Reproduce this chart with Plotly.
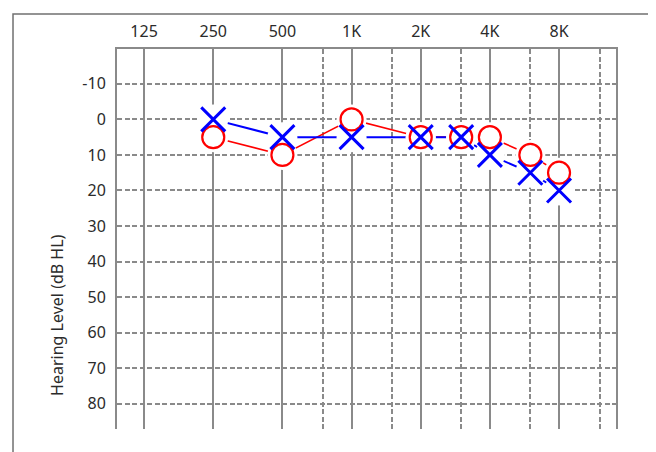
import plotly.graph_objects as go

# ---- data ----
freqs = [250, 500, 1000, 2000, 3000, 4000, 6000, 8000]
right_db = [5, 10, 0, 5, 5, 5, 10, 15]     # red circles
left_db = [0, 5, 5, 5, 5, 10, 15, 20]      # blue crosses

octave_ticks = [125, 250, 500, 1000, 2000, 4000, 8000]
octave_text = ["125", "250", "500", "1K", "2K", "4K", "8K"]
half_octaves = [750, 1500, 3000, 6000, 12000]
db_ticks = [-10, 0, 10, 20, 30, 40, 50, 60, 70, 80]
db_text = ["-10", "0", "10", "20", "30", "40", "50", "60", "70", "80"]

RED = "#ff0000"
BLUE = "#0000ff"
GRID = "#8a8a8a"
FONT = "Noto Sans"
TXT = "#2b2b2b"
DASH = "5px,2.5px"

fig = go.Figure()

# connecting lines
fig.add_trace(go.Scatter(x=freqs, y=right_db, mode="lines",
                         line=dict(color=RED, width=1.6), hoverinfo="skip"))
fig.add_trace(go.Scatter(x=freqs, y=left_db, mode="lines",
                         line=dict(color=BLUE, width=2), hoverinfo="skip"))
# white halos around markers
for ys in (right_db, left_db):
    fig.add_trace(go.Scatter(x=freqs, y=ys, mode="markers",
                             marker=dict(symbol="circle", size=30, color="white",
                                         line=dict(width=0)),
                             hoverinfo="skip"))
# symbols
fig.add_trace(go.Scatter(x=freqs, y=right_db, mode="markers",
                         marker=dict(symbol="circle-open", size=22,
                                     line=dict(color=RED, width=2.2), color=RED)))
fig.add_trace(go.Scatter(x=freqs, y=left_db, mode="markers",
                         marker=dict(symbol="x-thin-open", size=24,
                                     line=dict(color=BLUE, width=3), color=BLUE)))

fig.update_layout(
    width=648, height=444,
    margin=dict(l=109, r=40, t=29, b=23),
    paper_bgcolor="white", plot_bgcolor="white",
    showlegend=False,
    font=dict(family=FONT, size=16, color=TXT),
    xaxis=dict(
        type="log", range=[1.979, 4.151], side="top",
        tickmode="array", tickvals=octave_ticks, ticktext=octave_text,
        ticks="", ticklabelstandoff=4,
        showgrid=True, gridcolor=GRID, gridwidth=2,
        minor=dict(tickmode="array", tickvals=half_octaves, showgrid=True,
                   gridcolor=GRID, gridwidth=2, griddash=DASH, ticks=""),
        showline=True, linecolor=GRID, linewidth=2, mirror=False,
        zeroline=False, fixedrange=True,
    ),
    yaxis=dict(
        range=[87.1, -19.8],
        tickmode="array", tickvals=db_ticks, ticktext=db_text,
        ticks="", ticklabelstandoff=6,
        showgrid=True, gridcolor=GRID, gridwidth=2, griddash=DASH,
        showline=True, linecolor=GRID, linewidth=2, mirror=True,
        zeroline=False, fixedrange=True,
    ),
    annotations=[dict(
        text="Hearing Level (dB HL)", textangle=-90,
        xref="paper", yref="paper", x=-0.12, y=0.298,
        xanchor="center", yanchor="middle", showarrow=False,
        font=dict(family=FONT, size=16, color=TXT),
    )],
    shapes=[dict(
        type="rect", xref="paper", yref="paper",
        x0=-0.2084, x1=1.6, y0=-0.6, y1=1.0918,
        line=dict(color="#707070", width=1.5), fillcolor="rgba(0,0,0,0)",
        layer="below",
    )],
)

fig.write_html("out.html")
